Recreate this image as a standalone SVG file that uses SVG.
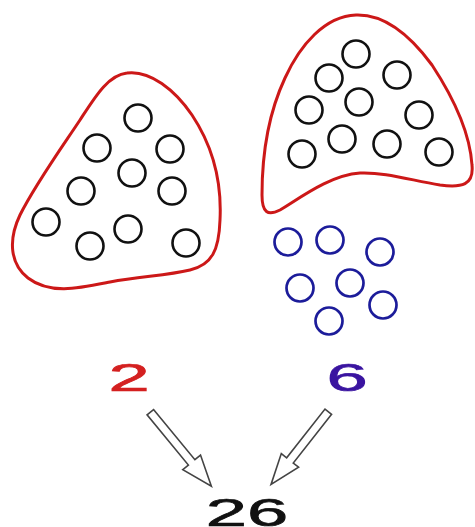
<svg xmlns="http://www.w3.org/2000/svg" width="475" height="527" viewBox="0 0 475 527">
<style>
.blob{fill:none;stroke:#cc1818;stroke-width:3}
.dot{fill:none;stroke:#111;stroke-width:2.6}
.bdot{fill:none;stroke:#1c1c9a;stroke-width:2.7}
.num{font-family:"Liberation Sans",Arial,sans-serif;font-size:38px;text-anchor:middle;stroke-width:0.7}
.arrow{fill:#fff;stroke:#444;stroke-width:1.6;stroke-linejoin:miter}
</style>
<rect width="475" height="527" fill="#fff"/>
<g id="left-set">
<path class="blob" d="M127,73 C150,70 175,90 192,115 C212,145 222,180 220,220 C219,250 212,265 190,270 C165,276 140,276 110,282 C80,288 50,295 28,278 C10,264 8,240 20,215 C35,185 60,150 80,120 C95,97 108,75 127,73 Z"/>
<circle class="dot" cx="138" cy="118" r="13.5"/>
<circle class="dot" cx="97" cy="148" r="13.5"/>
<circle class="dot" cx="170" cy="149" r="13.5"/>
<circle class="dot" cx="132" cy="173" r="13.5"/>
<circle class="dot" cx="81" cy="191" r="13.5"/>
<circle class="dot" cx="172" cy="191" r="13.5"/>
<circle class="dot" cx="46" cy="222" r="13.5"/>
<circle class="dot" cx="90" cy="246" r="13.5"/>
<circle class="dot" cx="128" cy="229" r="13.5"/>
<circle class="dot" cx="186" cy="243" r="13.5"/>
</g>
<g id="right-set">
<path class="blob" d="M356,15 C385,14 410,35 432,65 C455,100 470,135 472,165 C474,185 462,188 440,185 C410,180 385,172 360,173 C330,175 300,198 280,210 C268,216 262,213 262,195 C262,150 270,110 285,78 C300,45 325,16 356,15 Z"/>
<circle class="dot" cx="356" cy="54" r="13.5"/>
<circle class="dot" cx="329" cy="78" r="13.5"/>
<circle class="dot" cx="397" cy="75" r="13.5"/>
<circle class="dot" cx="309" cy="110" r="13.5"/>
<circle class="dot" cx="359" cy="102" r="13.5"/>
<circle class="dot" cx="419" cy="115" r="13.5"/>
<circle class="dot" cx="302" cy="154" r="13.5"/>
<circle class="dot" cx="342" cy="139" r="13.5"/>
<circle class="dot" cx="387" cy="144" r="13.5"/>
<circle class="dot" cx="439" cy="152" r="13.5"/>
</g>
<g id="loose-set">
<circle class="bdot" cx="288" cy="242" r="13.5"/>
<circle class="bdot" cx="330" cy="240" r="13.5"/>
<circle class="bdot" cx="380" cy="252" r="13.5"/>
<circle class="bdot" cx="300" cy="288" r="13.5"/>
<circle class="bdot" cx="350" cy="283" r="13.5"/>
<circle class="bdot" cx="383" cy="305" r="13.5"/>
<circle class="bdot" cx="329" cy="321" r="13.5"/>
</g>
<g id="label-2"><text class="num" fill="#d42020" stroke="#d42020" transform="translate(129,391) scale(1.95,1)">2</text></g>
<g id="label-6"><text class="num" fill="#3a14a0" stroke="#3a14a0" transform="translate(347,391) scale(1.95,1)">6</text></g>
<g id="label-26"><text class="num" fill="#111" stroke="#111" transform="translate(247,526) scale(1.95,1)">26</text></g>
<g id="connectors">
<polygon class="arrow" transform="translate(150.3,412.2) rotate(50.5)" points="0,-4.2 65,-4.2 65,-11.5 96,0 65,11.5 65,4.2 0,4.2"/>
<polygon class="arrow" transform="translate(328.3,411.7) rotate(128.2)" points="0,-4.2 62,-4.2 62,-11 92.6,0 62,11 62,4.2 0,4.2"/>
</g>
</svg>
